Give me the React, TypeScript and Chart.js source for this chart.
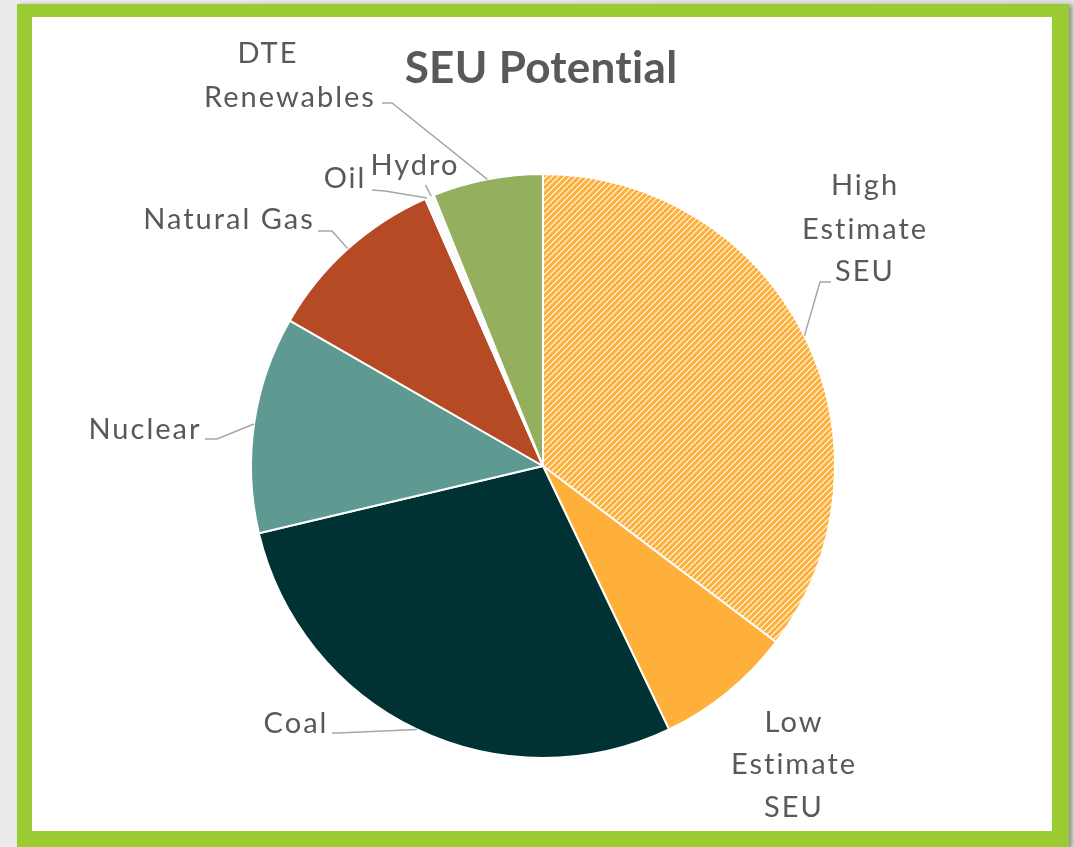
import React, { useEffect, useRef } from "react";
import { Chart, registerables } from "chart.js";

Chart.register(...registerables);

// ---- data ----
const categories = [
  "High Estimate SEU",
  "Low Estimate SEU",
  "Coal",
  "Nuclear",
  "Natural Gas",
  "Oil",
  "Hydro",
  "DTE Renewables",
];
const shares = [35.3, 7.6, 28.4, 12.0, 10.1, 0.2, 0.3, 6.1];
const labelLines = [
  ["High", "Estimate", "SEU"],
  ["Low", "Estimate", "SEU"],
  ["Coal"],
  ["Nuclear"],
  ["Natural Gas"],
  ["Oil"],
  ["Hydro"],
  ["DTE", "Renewables"],
];
const chartTitle = "SEU Potential";

// ---- styles ----
const sliceColors = [
  "HATCH",
  "#FFB03B",
  "#003234",
  "#5E9A92",
  "#B54A25",
  "#FAFAFA",
  "#FAFAFA",
  "#94AF5E",
];
const hatchColor = "#FFB03B";
const textColor = "#595959";
const leaderColor = "#A6A6A6";
const labelFont = "29px Lato";
const titleFont = "bold 44px Lato";

// label layout, offsets from pie centre expressed for a reference radius of 292
const REF_R = 292;
type LabelLayout = {
  xs: number[];
  baselines: number[];
  leader?: { elbow: [number, number]; end: [number, number] };
};
const labelLayout: LabelLayout[] = [
  { xs: [321, 321, 321], baselines: [-271, -227, -185], leader: { elbow: [277, -184], end: [288, -184] } },
  { xs: [250, 250, 250], baselines: [266, 308, 351] },
  { xs: [-248], baselines: [267], leader: { elbow: [-205, 267], end: [-211, 267] } },
  { xs: [-399], baselines: [-27], leader: { elbow: [-326, -27], end: [-338, -27] } },
  { xs: [-315], baselines: [-237], leader: { elbow: [-211, -235], end: [-225, -235] } },
  { xs: [-199], baselines: [-278], leader: { elbow: [-158, -275], end: [-171, -276] } },
  { xs: [-129], baselines: [-291], leader: { elbow: [-117, -280], end: [-117, -281] } },
  { xs: [-276, -254], baselines: [-403, -359], leader: { elbow: [-151, -363], end: [-161, -363] } },
];

function makeHatch(ctx: CanvasRenderingContext2D): CanvasPattern | string {
  const tile = document.createElement("canvas");
  tile.width = 6;
  tile.height = 6;
  const t = tile.getContext("2d");
  if (!t) return hatchColor;
  t.fillStyle = "#ffffff";
  t.fillRect(0, 0, 6, 6);
  t.strokeStyle = hatchColor;
  t.lineWidth = 3.2;
  t.beginPath();
  t.moveTo(-3, 3);
  t.lineTo(3, -3);
  t.moveTo(-3, 9);
  t.lineTo(9, -3);
  t.moveTo(3, 9);
  t.lineTo(9, 3);
  t.stroke();
  return ctx.createPattern(tile, "repeat") || hatchColor;
}

const labelPlugin = {
  id: "pieLabels",
  afterDraw(chart: any) {
    const ctx: any = chart.ctx;
    const meta = chart.getDatasetMeta(0);
    ctx.save();
    // title
    ctx.font = titleFont;
    ctx.fillStyle = textColor;
    ctx.textAlign = "center";
    ctx.textBaseline = "alphabetic";
    ctx.letterSpacing = "0.3px";
    ctx.fillText(chartTitle, 541, 83);

    meta.data.forEach((arc: any, i: number) => {
      const p = arc.getProps(["x", "y", "startAngle", "endAngle", "outerRadius"], true);
      const s = p.outerRadius / REF_R;
      const mid = (p.startAngle + p.endAngle) / 2;
      const ax = p.x + Math.cos(mid) * p.outerRadius;
      const ay = p.y + Math.sin(mid) * p.outerRadius;
      const L = labelLayout[i];
      if (L.leader) {
        ctx.strokeStyle = leaderColor;
        ctx.lineWidth = 1.5;
        ctx.beginPath();
        ctx.moveTo(ax, ay);
        ctx.lineTo(p.x + L.leader.elbow[0] * s, p.y + L.leader.elbow[1] * s);
        ctx.lineTo(p.x + L.leader.end[0] * s, p.y + L.leader.end[1] * s);
        ctx.stroke();
      }
      ctx.font = labelFont;
      ctx.fillStyle = textColor;
      ctx.textAlign = "center";
      ctx.textBaseline = "alphabetic";
      ctx.letterSpacing = "2px";
      labelLines[i].forEach((line, j) => {
        ctx.fillText(line, p.x + L.xs[j] * s + 1, p.y + L.baselines[j] * s);
      });
    });
    ctx.restore();
  },
};

export default function App() {
  const ref = useRef<HTMLCanvasElement>(null);
  useEffect(() => {
    const canvas = ref.current;
    if (!canvas) return;
    const ctx = canvas.getContext("2d");
    if (!ctx) return;
    const hatch = makeHatch(ctx);
    const colors = sliceColors.map((c) => (c === "HATCH" ? hatch : c));
    const chart = new Chart(canvas, {
      type: "pie",
      data: {
        labels: categories,
        datasets: [
          {
            data: shares,
            backgroundColor: colors as any,
            borderColor: "#ffffff",
            borderWidth: 2,
          },
        ],
      },
      options: {
        responsive: false,
        animation: false,
        layout: { padding: { left: 250, right: 238, top: 173, bottom: 88 } },
        plugins: {
          legend: { display: false },
          tooltip: { enabled: false },
          title: { display: false },
        },
      },
      plugins: [labelPlugin],
    });
    return () => chart.destroy();
  }, []);

  return (
    <div
      style={{
        position: "fixed",
        left: 0,
        top: 0,
        width: 1074,
        height: 847,
        overflow: "hidden",
        background: "linear-gradient(90deg, #ebebeb, #dedede)",
      }}
    >
      <div
        style={{
          position: "absolute",
          left: 17,
          top: 4,
          width: 1052,
          height: 843,
          boxSizing: "border-box",
          borderStyle: "solid",
          borderColor: "#9BCB33",
          borderWidth: "13px 17px 16px 15px",
          background: "#ffffff",
          boxShadow: "3px 1px 4px rgba(0,0,0,0.35)",
        }}
      />
      <canvas
        ref={ref}
        width={1074}
        height={847}
        style={{ position: "absolute", left: 0, top: 0 }}
      />
    </div>
  );
}
